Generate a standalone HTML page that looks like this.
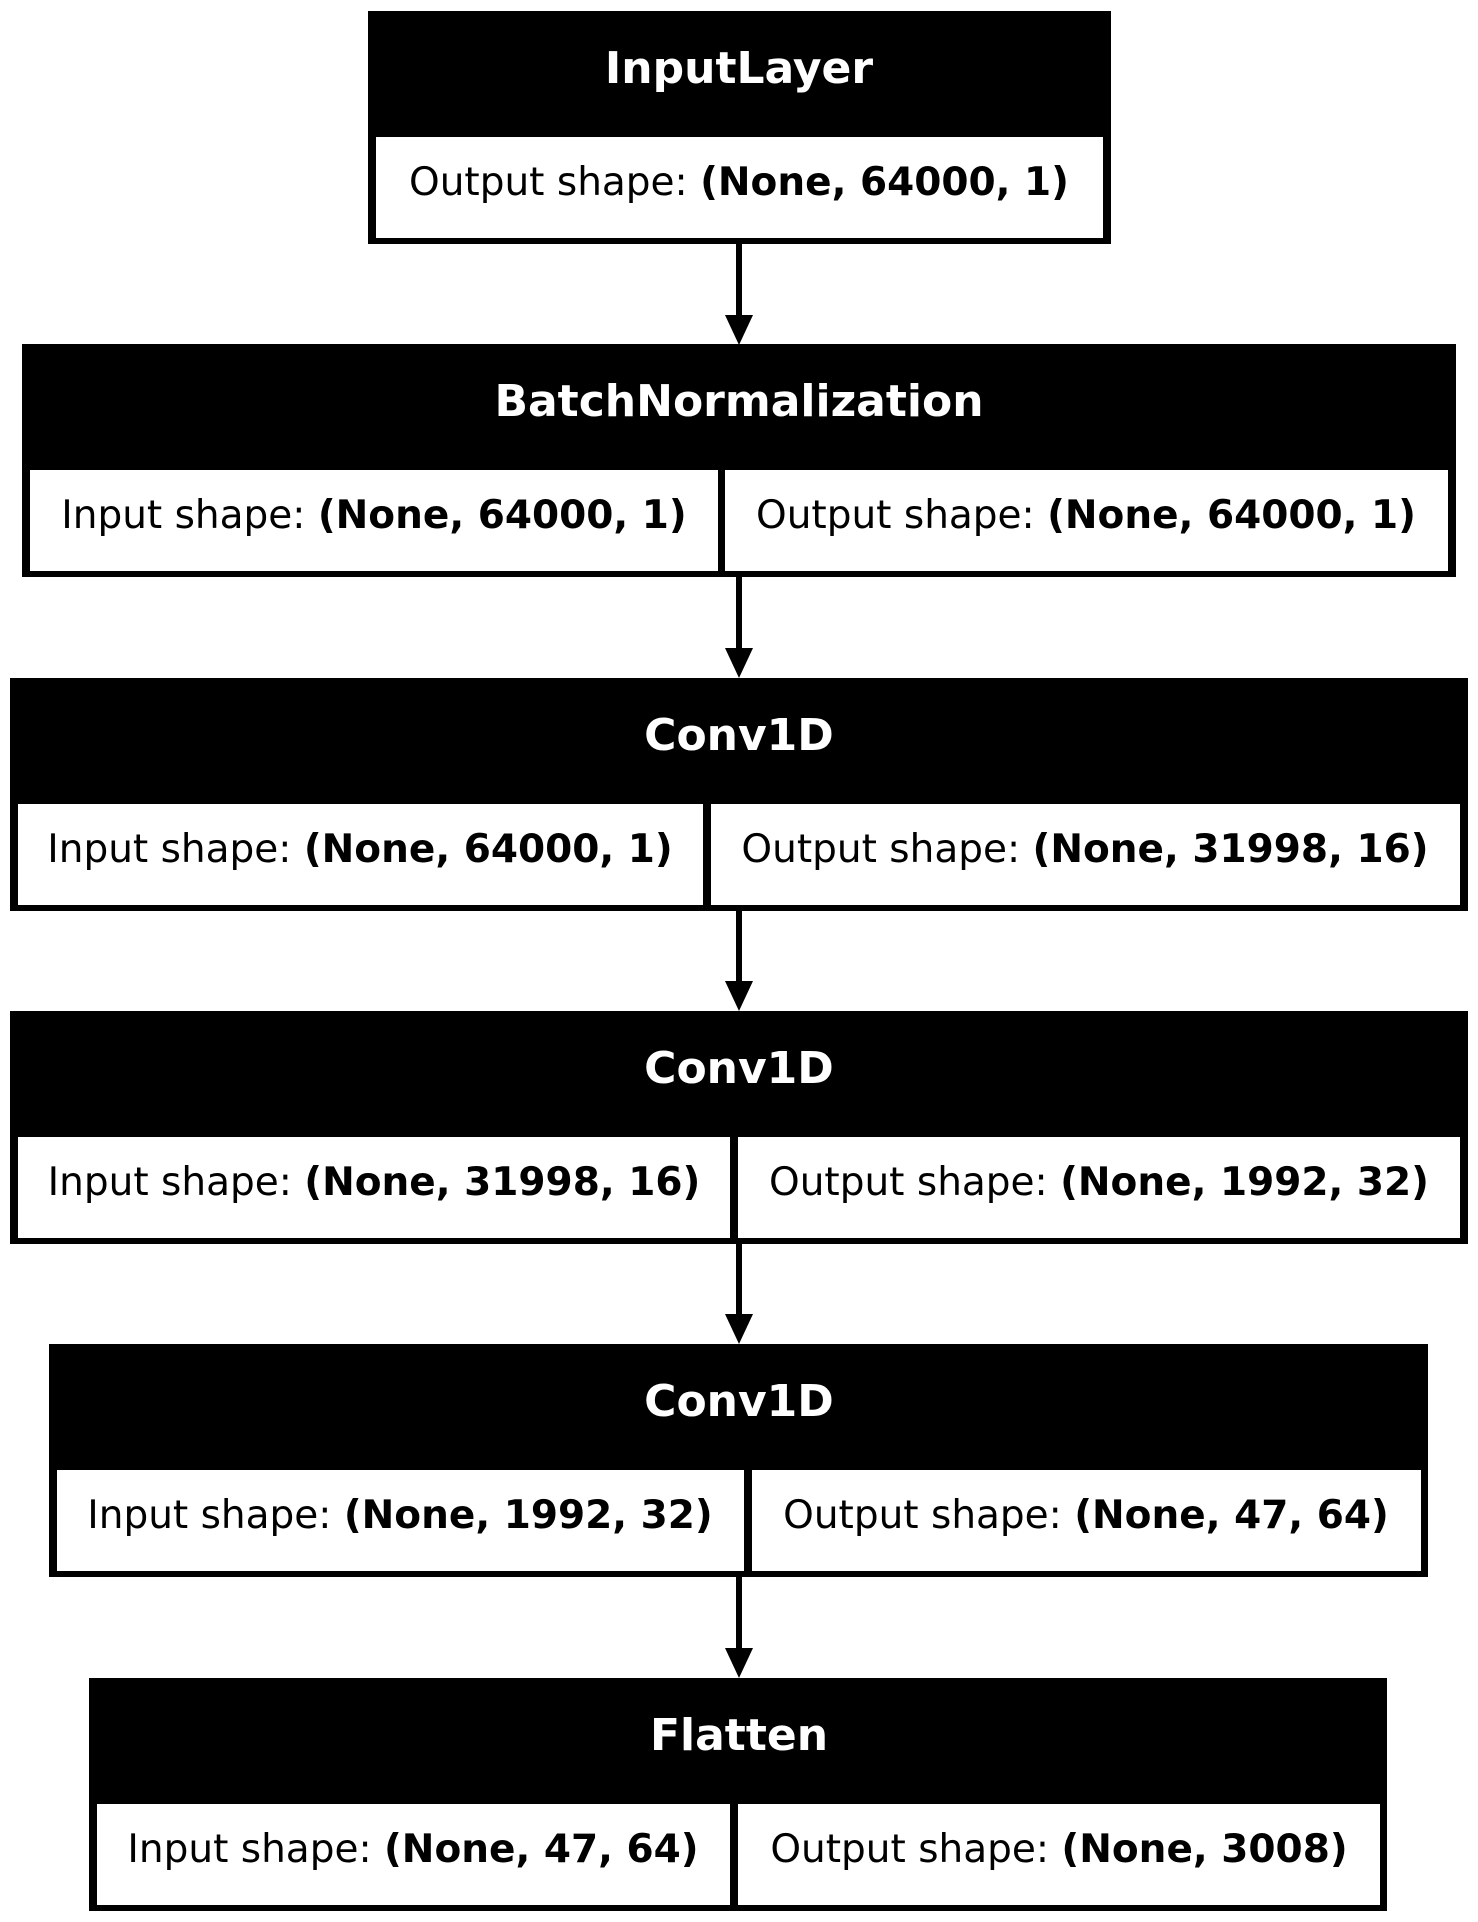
<!DOCTYPE html>
<html><head><meta charset="utf-8"><style>
html,body{margin:0;padding:0;background:#fff}
svg{display:block}
text{font-family:"DejaVu Sans","Liberation Sans",sans-serif}
.h{font-weight:bold;font-size:44px;fill:#fff;text-anchor:middle}
.b{font-size:39px;fill:#000;text-anchor:middle}
.b tspan.k{font-weight:bold}
</style></head><body>
<svg width="1478" height="1922" viewBox="0 0 1478 1922" xmlns="http://www.w3.org/2000/svg">

<!-- InputLayer -->
<rect x="368" y="11" width="743" height="233" fill="#000"/>
<rect x="376" y="137" width="727" height="101" fill="#fff"/>
<text class="h" x="739" y="83">InputLayer</text>
<text class="b" x="739" y="195">Output shape: <tspan class="k">(None, 64000, 1)</tspan></text>

<rect x="736" y="244" width="6" height="72" fill="#000"/>
<polygon points="725,315 753,315 739,345" fill="#000"/>

<!-- BatchNormalization -->
<rect x="22" y="344" width="1434" height="233" fill="#000"/>
<rect x="30" y="470" width="688" height="101" fill="#fff"/>
<rect x="725" y="470" width="723" height="101" fill="#fff"/>
<text class="h" x="739" y="416">BatchNormalization</text>
<text class="b" x="374" y="528">Input shape: <tspan class="k">(None, 64000, 1)</tspan></text>
<text class="b" x="1086" y="528">Output shape: <tspan class="k">(None, 64000, 1)</tspan></text>

<rect x="736" y="577" width="6" height="72" fill="#000"/>
<polygon points="725,648 753,648 739,678" fill="#000"/>

<!-- Conv1D 1 -->
<rect x="10" y="678" width="1458" height="233" fill="#000"/>
<rect x="18" y="804" width="685" height="101" fill="#fff"/>
<rect x="711" y="804" width="749" height="101" fill="#fff"/>
<text class="h" x="739" y="750">Conv1D</text>
<text class="b" x="360" y="862">Input shape: <tspan class="k">(None, 64000, 1)</tspan></text>
<text class="b" x="1085" y="862">Output shape: <tspan class="k">(None, 31998, 16)</tspan></text>

<rect x="736" y="911" width="6" height="71" fill="#000"/>
<polygon points="725,981 753,981 739,1011" fill="#000"/>

<!-- Conv1D 2 -->
<rect x="10" y="1011" width="1458" height="233" fill="#000"/>
<rect x="18" y="1137" width="712" height="101" fill="#fff"/>
<rect x="738" y="1137" width="722" height="101" fill="#fff"/>
<text class="h" x="739" y="1083">Conv1D</text>
<text class="b" x="374" y="1195">Input shape: <tspan class="k">(None, 31998, 16)</tspan></text>
<text class="b" x="1099" y="1195">Output shape: <tspan class="k">(None, 1992, 32)</tspan></text>

<rect x="736" y="1244" width="6" height="71" fill="#000"/>
<polygon points="725,1314 753,1314 739,1344" fill="#000"/>

<!-- Conv1D 3 -->
<rect x="49" y="1344" width="1379" height="233" fill="#000"/>
<rect x="57" y="1470" width="687" height="101" fill="#fff"/>
<rect x="752" y="1470" width="669" height="101" fill="#fff"/>
<text class="h" x="739" y="1416">Conv1D</text>
<text class="b" x="400" y="1528">Input shape: <tspan class="k">(None, 1992, 32)</tspan></text>
<text class="b" x="1086" y="1528">Output shape: <tspan class="k">(None, 47, 64)</tspan></text>

<rect x="736" y="1577" width="6" height="72" fill="#000"/>
<polygon points="725,1648 753,1648 739,1678" fill="#000"/>

<!-- Flatten -->
<rect x="89" y="1678" width="1298" height="233" fill="#000"/>
<rect x="97" y="1804" width="633" height="101" fill="#fff"/>
<rect x="738" y="1804" width="642" height="101" fill="#fff"/>
<text class="h" x="739" y="1750">Flatten</text>
<text class="b" x="413" y="1862">Input shape: <tspan class="k">(None, 47, 64)</tspan></text>
<text class="b" x="1059" y="1862">Output shape: <tspan class="k">(None, 3008)</tspan></text>
</svg>
</body></html>
